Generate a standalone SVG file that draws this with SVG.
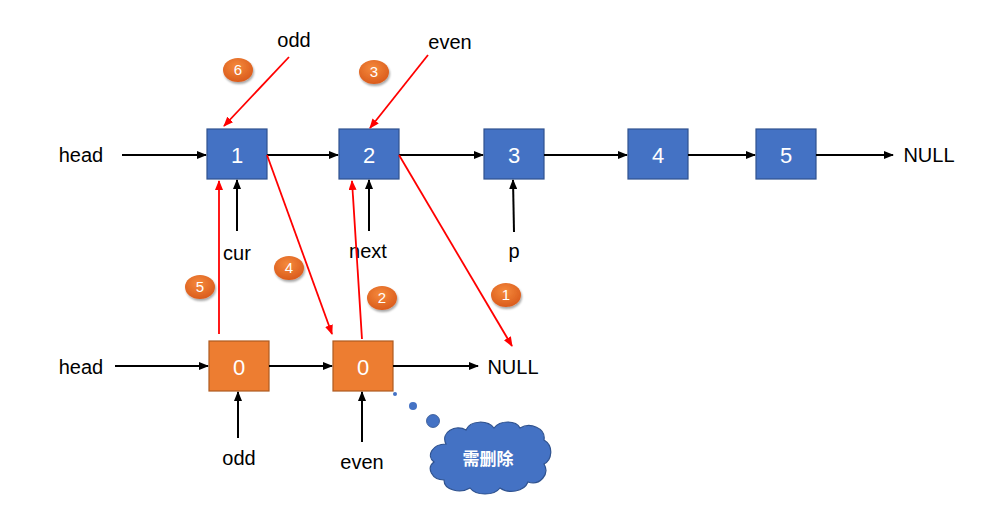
<svg xmlns="http://www.w3.org/2000/svg" width="981" height="528" viewBox="0 0 981 528">
<defs>
<marker id="ab" markerWidth="10" markerHeight="8" refX="9" refY="4" orient="auto" markerUnits="userSpaceOnUse"><path d="M0,0 L10,4 L0,8 z" fill="#000"/></marker>
<marker id="ar" markerWidth="10" markerHeight="8" refX="9" refY="4" orient="auto" markerUnits="userSpaceOnUse"><path d="M0,0 L10,4 L0,8 z" fill="#f00"/></marker>
<radialGradient id="bg" cx="0.45" cy="0.35" r="0.7"><stop offset="0" stop-color="#f58a3c"/><stop offset="1" stop-color="#d8581a"/></radialGradient>
<filter id="sh" x="-30%" y="-30%" width="160%" height="170%"><feDropShadow dx="1" dy="2" stdDeviation="1.2" flood-color="#000" flood-opacity="0.35"/></filter>
</defs>
<style>
text{font-family:"Liberation Sans","Noto Sans CJK SC",sans-serif;}
.lbl{font-size:20px;fill:#000;text-anchor:middle;}
.bn rect{fill:#4472c4;stroke:#2f528f;stroke-width:1.2;}
.on rect{fill:#ed7d31;stroke:#ae5a21;stroke-width:1.2;}
.nt{font-size:22px;fill:#fff;text-anchor:middle;}
.b{stroke:#000;stroke-width:2;fill:none;marker-end:url(#ab);}
.r{stroke:#f00;stroke-width:1.8;fill:none;marker-end:url(#ar);}
.bd ellipse{fill:url(#bg);filter:url(#sh);}
.bd text{font-size:15px;fill:#fff;text-anchor:middle;}
</style>
<rect width="981" height="528" fill="#fff"/>
<g id="n1" class="bn"><rect x="207" y="129" width="60" height="50"/><text class="nt" x="237" y="163">1</text></g>
<g id="n2" class="bn"><rect x="339" y="129" width="60" height="50"/><text class="nt" x="369" y="163">2</text></g>
<g id="n3" class="bn"><rect x="484" y="129" width="60" height="50"/><text class="nt" x="514" y="163">3</text></g>
<g id="n4" class="bn"><rect x="628" y="129" width="60" height="50"/><text class="nt" x="658" y="163">4</text></g>
<g id="n5" class="bn"><rect x="756" y="129" width="60" height="50"/><text class="nt" x="786" y="163">5</text></g>
<g id="o1" class="on"><rect x="209" y="341" width="60" height="50"/><text class="nt" x="239" y="375">0</text></g>
<g id="o2" class="on"><rect x="333" y="341" width="60" height="50"/><text class="nt" x="363" y="375">0</text></g>
<g id="labels">
<text class="lbl" x="294" y="47">odd</text>
<text class="lbl" x="450" y="49">even</text>
<text class="lbl" x="81" y="162">head</text>
<text class="lbl" x="929" y="162">NULL</text>
<text class="lbl" x="237" y="260">cur</text>
<text class="lbl" x="368" y="258">next</text>
<text class="lbl" x="514" y="258">p</text>
<text class="lbl" x="81" y="374">head</text>
<text class="lbl" x="513" y="374">NULL</text>
<text class="lbl" x="239" y="465">odd</text>
<text class="lbl" x="362" y="469">even</text>
</g>
<g id="connectors">
<line class="b" x1="122" y1="155" x2="206" y2="155"/>
<line class="b" x1="267" y1="155" x2="338" y2="155"/>
<line class="b" x1="399" y1="155" x2="483" y2="155"/>
<line class="b" x1="544" y1="155" x2="627" y2="155"/>
<line class="b" x1="688" y1="155" x2="755" y2="155"/>
<line class="b" x1="816" y1="155" x2="893" y2="155"/>
<line class="b" x1="237" y1="231" x2="237" y2="180"/>
<line class="b" x1="369" y1="231" x2="369" y2="180"/>
<line class="b" x1="514" y1="232" x2="513" y2="180"/>
<line class="b" x1="115" y1="366" x2="208" y2="366"/>
<line class="b" x1="269" y1="366" x2="332" y2="366"/>
<line class="b" x1="393" y1="366" x2="478" y2="366"/>
<line class="b" x1="238" y1="438" x2="238" y2="392"/>
<line class="b" x1="362" y1="442" x2="362" y2="392"/>
<line class="r" x1="289" y1="57" x2="224" y2="126"/>
<line class="r" x1="428" y1="55" x2="370" y2="128"/>
<line class="r" x1="399" y1="155" x2="512" y2="346"/>
<line class="r" x1="267" y1="155" x2="332" y2="334"/>
<line class="r" x1="362" y1="339" x2="352" y2="181"/>
<line class="r" x1="219" y1="334" x2="219" y2="181"/>
</g>
<g id="badges" class="bd">
<g id="b6"><ellipse cx="238" cy="70" rx="15" ry="12"/><text x="238" y="75">6</text></g>
<g id="b3"><ellipse cx="374" cy="72" rx="15" ry="12"/><text x="374" y="77">3</text></g>
<g id="b4"><ellipse cx="289" cy="268" rx="15" ry="12"/><text x="289" y="273">4</text></g>
<g id="b5"><ellipse cx="200" cy="287" rx="15" ry="12"/><text x="200" y="292">5</text></g>
<g id="b2"><ellipse cx="382" cy="298" rx="15" ry="12"/><text x="382" y="303">2</text></g>
<g id="b1"><ellipse cx="506" cy="295" rx="15" ry="12"/><text x="506" y="300">1</text></g>
</g>
<g id="cloud">
<circle cx="395" cy="394" r="2" fill="#4472c4"/>
<circle cx="413" cy="406" r="4" fill="#4472c4"/>
<circle cx="433" cy="421" r="6.5" fill="#4472c4" stroke="#2f528f" stroke-width="0.8"/>
<path d="M446,444 C440,432 456,424 466,430 C470,420 488,420 494,428 C500,420 516,420 520,428 C530,422 546,428 544,440 C554,446 552,460 544,464 C550,474 540,486 528,482 C524,492 508,494 500,488 C494,496 476,496 470,488 C460,494 444,490 444,480 C432,480 426,468 434,462 C426,456 432,444 446,444 Z" fill="#4472c4" stroke="#2f528f" stroke-width="1.2"/>
<text x="488" y="465" font-size="17" font-weight="bold" fill="#fff" text-anchor="middle">需删除</text>
</g>
</svg>
